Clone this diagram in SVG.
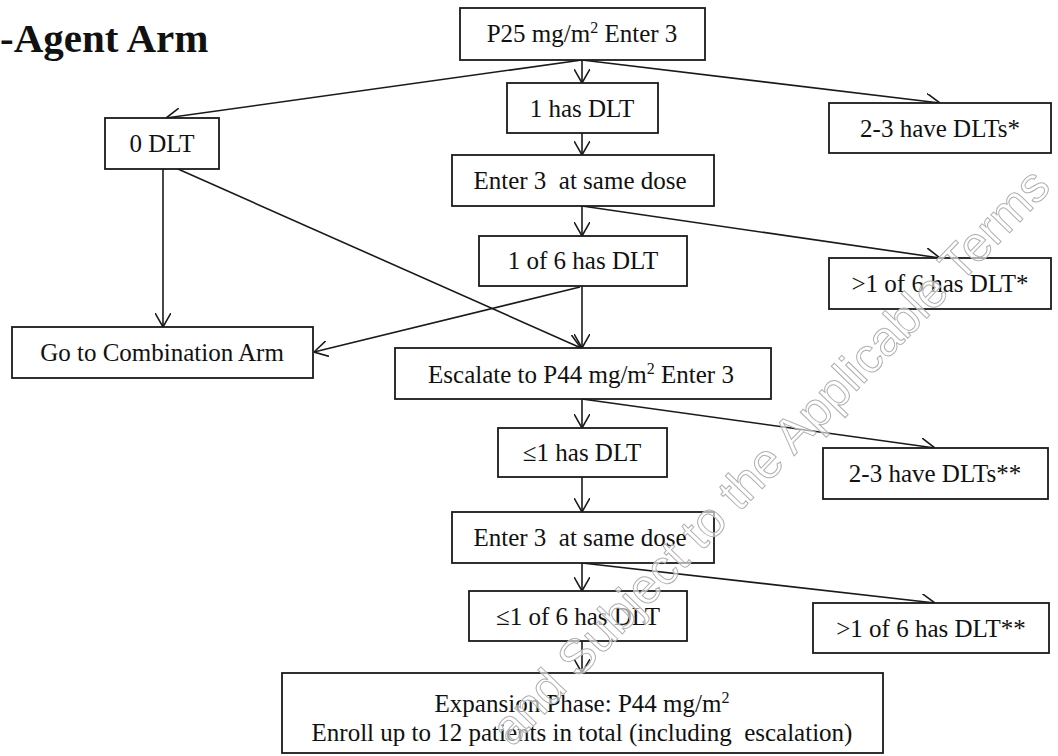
<svg xmlns="http://www.w3.org/2000/svg" width="1058" height="756" viewBox="0 0 1058 756">
<defs>
<style>
.box{fill:#fff;stroke:#1a1a1a;stroke-width:1.8}
.t{font-family:"Liberation Serif","Times New Roman",serif;font-size:25px;fill:#111;text-anchor:middle}
.c{fill:none;stroke:#1a1a1a;stroke-width:1.6}
.wm{font-family:"Liberation Sans",Arial,sans-serif;font-size:49px;fill:#fff;fill-opacity:0.6;stroke:#b0b0b0;stroke-width:1}
</style>
<marker id="ah" viewBox="0 0 14 16" refX="14" refY="8" markerWidth="14" markerHeight="16" markerUnits="userSpaceOnUse" orient="auto">
<path d="M0,0 L14,8 L0,16" fill="none" stroke="#1a1a1a" stroke-width="1.6"/>
</marker>
</defs>
<rect width="1058" height="756" fill="#fff"/>
<text x="0" y="52" font-family="'Liberation Serif','Times New Roman',serif" font-size="41" font-weight="bold" fill="#111">-Agent Arm</text>
<g id="connectors">
<line class="c" x1="582" y1="60" x2="582" y2="83" marker-end="url(#ah)"/>
<line class="c" x1="582" y1="60" x2="166" y2="118" marker-end="url(#ah)"/>
<line class="c" x1="582" y1="60" x2="940" y2="103" marker-end="url(#ah)"/>
<line class="c" x1="582" y1="133" x2="582" y2="155" marker-end="url(#ah)"/>
<line class="c" x1="582" y1="206" x2="582" y2="236" marker-end="url(#ah)"/>
<line class="c" x1="582" y1="206" x2="940" y2="258" marker-end="url(#ah)"/>
<line class="c" x1="582" y1="286" x2="582" y2="348" marker-end="url(#ah)"/>
<line class="c" x1="580" y1="287" x2="314" y2="352" marker-end="url(#ah)"/>
<line class="c" x1="163" y1="169" x2="163" y2="327" marker-end="url(#ah)"/>
<line class="c" x1="178" y1="169" x2="581" y2="348" marker-end="url(#ah)"/>
<line class="c" x1="582" y1="399" x2="582" y2="428" marker-end="url(#ah)"/>
<line class="c" x1="582" y1="399" x2="935" y2="448" marker-end="url(#ah)"/>
<line class="c" x1="582" y1="477" x2="582" y2="512" marker-end="url(#ah)"/>
<line class="c" x1="582" y1="563" x2="582" y2="591" marker-end="url(#ah)"/>
<line class="c" x1="582" y1="563" x2="935" y2="603" marker-end="url(#ah)"/>
<line class="c" x1="582" y1="640" x2="582" y2="673" marker-end="url(#ah)"/>
</g>
<g id="n-p25"><rect class="box" x="460" y="8" width="245" height="52"/><text class="t" x="582" y="42">P25 mg/m<tspan dy="-9" font-size="16">2</tspan><tspan dy="9"> Enter 3</tspan></text></g>
<g id="n-1dlt"><rect class="box" x="507" y="83" width="151" height="50"/><text class="t" x="582" y="117">1 has DLT</text></g>
<g id="n-0dlt"><rect class="box" x="105" y="118" width="114" height="51"/><text class="t" x="162" y="152">0 DLT</text></g>
<g id="n-23a"><rect class="box" x="829" y="103" width="222" height="50"/><text class="t" x="940" y="137">2-3 have DLTs*</text></g>
<g id="n-enter1"><rect class="box" x="452" y="155" width="262" height="51"/><text class="t" x="580" y="189" xml:space="preserve">Enter 3  at same dose</text></g>
<g id="n-1of6"><rect class="box" x="479" y="236" width="208" height="50"/><text class="t" x="583" y="269">1 of 6 has DLT</text></g>
<g id="n-gt1a"><rect class="box" x="829" y="258" width="222" height="51"/><text class="t" x="940" y="292">&gt;1 of 6 has DLT*</text></g>
<g id="n-combo"><rect class="box" x="12" y="327" width="301" height="51"/><text class="t" x="162" y="361">Go to Combination Arm</text></g>
<g id="n-esc"><rect class="box" x="395" y="348" width="376" height="51"/><text class="t" x="581" y="383">Escalate to P44 mg/m<tspan dy="-9" font-size="16">2</tspan><tspan dy="9"> Enter 3</tspan></text></g>
<g id="n-le1"><rect class="box" x="498" y="428" width="169" height="49"/><text class="t" x="582" y="461">≤1 has DLT</text></g>
<g id="n-23b"><rect class="box" x="823" y="448" width="225" height="51"/><text class="t" x="935" y="482">2-3 have DLTs**</text></g>
<g id="n-enter2"><rect class="box" x="452" y="512" width="262" height="51"/><text class="t" x="580" y="546" xml:space="preserve">Enter 3  at same dose</text></g>
<g id="n-le1of6"><rect class="box" x="469" y="591" width="218" height="50"/><text class="t" x="578" y="625">≤1 of 6 has DLT</text></g>
<g id="n-gt1b"><rect class="box" x="813" y="603" width="236" height="50"/><text class="t" x="931" y="637">&gt;1 of 6 has DLT**</text></g>
<g id="n-exp"><rect class="box" x="282" y="673" width="601" height="80"/><text class="t" x="582" y="712">Expansion Phase: P44 mg/m<tspan dy="-9" font-size="16">2</tspan></text><text class="t" x="582" y="741" xml:space="preserve">Enroll up to 12 patients in total (including  escalation)</text></g>
<text class="wm" transform="translate(512,748) rotate(-46)">and Subject to the Applicable Terms</text>
</svg>
